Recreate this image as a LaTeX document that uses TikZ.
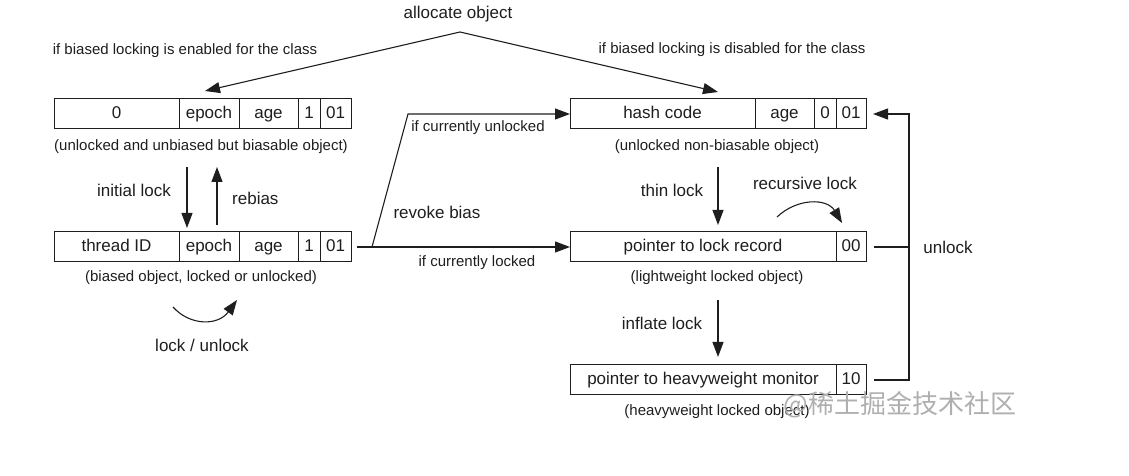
\documentclass[tikz,border=0pt]{standalone}
\usepackage{fontspec}
\setmainfont{Liberation Sans}
\newfontfamily\cjkfont{Noto Sans CJK SC}
\usetikzlibrary{positioning,arrows.meta}
\newcommand{\bigtxt}{\fontsize{17}{20}\selectfont}
\newcommand{\smalltxt}{\fontsize{15}{18}\selectfont}
\definecolor{ink}{RGB}{30,30,30}
\definecolor{wmgray}{RGB}{175,175,175}

\begin{document}
\begin{tikzpicture}[x=1pt, y=1pt,
  cell/.style={draw=ink, line width=1pt, minimum height=30pt,
    inner sep=0pt, outer sep=0pt, text height=12.5pt, text depth=3.5pt,
    font=\bigtxt, text=ink},
  lbl/.style={font=\bigtxt, text=ink, inner sep=1pt},
  note/.style={font=\smalltxt, text=ink, inner sep=1pt},
  arr/.style={draw=ink, line width=1.1pt, -{Triangle[length=15pt,width=11pt]}},
  wire/.style={draw=ink, line width=1.1pt},
]
  \useasboundingbox (0,0) rectangle (1129,476);

  % Left column: biasable header words
  \node[cell, minimum width=125pt, anchor=west] (u0) at (54,362) {0};
  \node[cell, minimum width=60pt, right=0pt of u0] (uepoch) {epoch};
  \node[cell, minimum width=59pt, right=0pt of uepoch] (uage) {age};
  \node[cell, minimum width=22pt, right=0pt of uage] (ubit) {1};
  \node[cell, minimum width=31pt, right=0pt of ubit] (u01) {01};
  \node[note] (ucap) at (201,329) {(unlocked and unbiased but biasable object)};

  \node[cell, minimum width=125pt, anchor=west] (tid) at (54,229) {thread ID};
  \node[cell, minimum width=60pt, right=0pt of tid] (tepoch) {epoch};
  \node[cell, minimum width=59pt, right=0pt of tepoch] (tage) {age};
  \node[cell, minimum width=22pt, right=0pt of tage] (tbit) {1};
  \node[cell, minimum width=31pt, right=0pt of tbit] (t01) {01};
  \node[note] (tcap) at (201,198) {(biased object, locked or unlocked)};

  % Right column: hash, thin and fat locks
  \node[cell, minimum width=185pt, anchor=west] (hhash) at (570,362) {hash code};
  \node[cell, minimum width=59pt, right=0pt of hhash] (hage) {age};
  \node[cell, minimum width=22pt, right=0pt of hage] (hbit) {0};
  \node[cell, minimum width=30pt, right=0pt of hbit] (h01) {01};
  \node[note] (hcap) at (717,329) {(unlocked non-biasable object)};

  \node[cell, minimum width=266pt, anchor=west] (lptr) at (570,229) {pointer to lock record};
  \node[cell, minimum width=30pt, right=0pt of lptr] (l00) {00};
  \node[note] (lcap) at (717,198) {(lightweight locked object)};

  \node[cell, minimum width=266pt, anchor=west] (vptr) at (570,96) {pointer to heavyweight monitor};
  \node[cell, minimum width=30pt, right=0pt of vptr] (v10) {10};
  \node[note] (vcap) at (717,64) {(heavyweight locked object)};

  % Allocation
  \node[lbl] (alloc) at (458,462) {allocate object};
  \coordinate (apex) at (460,444);
  \draw[arr] (apex) -- ([shift={(26pt,8pt)}]u0.north east);
  \draw[arr] (apex) -- ([shift={(-37pt,7pt)}]hhash.north east);
  \node[note] (enab) at (185,425) {if biased locking is enabled for the class};
  \node[note] (disab) at (732,426) {if biased locking is disabled for the class};

  % Bias transitions
  \coordinate (initA) at (187,309);
  \coordinate (rebA) at (217,309);
  \draw[arr, shorten >=4pt] (initA) -- (initA |- tepoch.north);
  \draw[arr, shorten <=7pt] (rebA |- tepoch.north) -- (rebA);
  \node[lbl, anchor=east] (initl) at (172,286) {initial lock};
  \node[lbl, anchor=west] (rebl) at (231,278) {rebias};

  \coordinate (luA) at (173,169);
  \coordinate (luB) at (237,176);
  \draw[arr] (luA) .. controls (190,150) and (218,150) .. (luB);
  \node[lbl] (lul) at (202,131) {lock / unlock};

  % Revocation
  \coordinate (fork) at (372,229);
  \coordinate (knee) at (408,362);
  \draw[arr] ([xshift=6pt]t01.east) -- (lptr.west);
  \draw[arr] (fork) -- (knee) -- (hhash.west);
  \node[note] (unl) at (478,348) {if currently unlocked};
  \node[lbl] (revl) at (437,264) {revoke bias};
  \node[note] (lckd) at (477,213) {if currently locked};

  % Thin and inflated locking
  \coordinate (thinA) at (718,309);
  \draw[arr, shorten >=7pt] (thinA) -- (thinA |- lptr.north);
  \node[lbl] (thinl) at (672,286) {thin lock};

  \coordinate (recA) at (777,259);
  \coordinate (recB) at (842,253);
  \draw[arr] (recA) .. controls (797,278) and (827,278) .. (recB);
  \node[lbl] (recl) at (805,293) {recursive lock};

  \coordinate (inflA) at (718,176);
  \draw[arr, shorten >=8pt] (inflA) -- (inflA |- vptr.north);
  \node[lbl] (infl) at (662,153) {inflate lock};

  % Unlock back to neutral
  \coordinate (rtop) at (909,362);
  \draw[wire] ([xshift=8pt]l00.east) -- (l00.east -| rtop);
  \draw[arr] ([xshift=8pt]v10.east) -| (rtop) -- ([xshift=7pt]h01.east);
  \node[lbl] (unlk) at (948,229) {unlock};

  \node[font=\cjkfont\fontsize{26}{30}\selectfont, text=wmgray] (wm) at (900,71) {@稀土掘金技术社区};
\end{tikzpicture}
\end{document}
